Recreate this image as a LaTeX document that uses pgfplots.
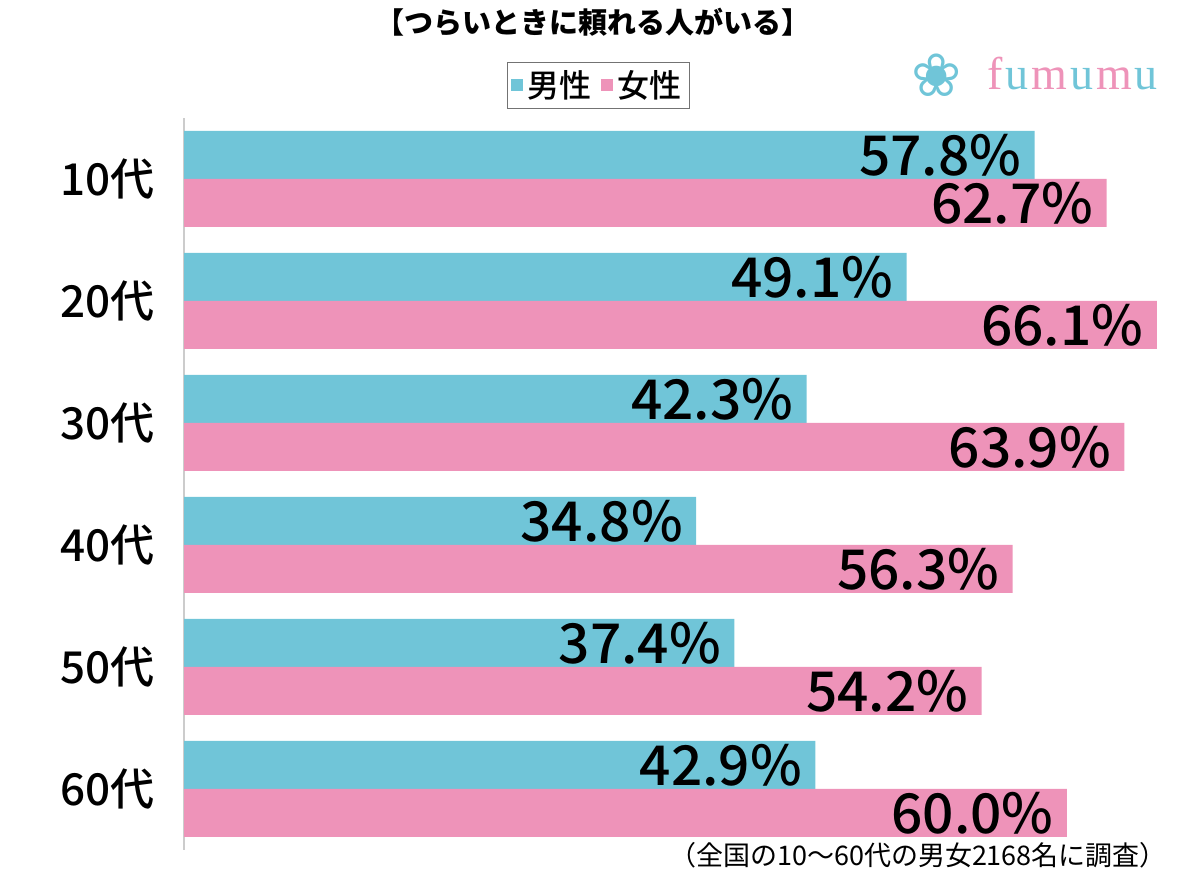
\documentclass[border=0pt]{standalone}
\usepackage{pgfplots}
\pgfplotsset{compat=1.18}
\usepackage{fontspec}
\setmainfont{Noto Sans CJK JP}
\newfontfamily\medfont{Noto Sans CJK JP Medium}
\newfontfamily\logofont{Liberation Serif}
\newfontfamily\symfont{DejaVu Sans}
\definecolor{mblue}{HTML}{70C5D8}
\definecolor{fpink}{HTML}{EE93B9}
\begin{document}
\begin{tikzpicture}
\path[use as bounding box] (0,0) rectangle (600pt,435pt);
\begin{axis}[
  at={(92pt,10pt)}, anchor=south west, scale only axis,
  width=493pt, height=366pt,
  xbar, bar width=24pt,
  xmin=0, xmax=67, ymin=-0.5, ymax=5.5,
  axis x line=none, axis y line*=left,
  y axis line style={draw=black!20, line width=0.8pt},
  ytick={0,...,5}, yticklabels={60代,50代,40代,30代,20代,10代},
  major tick length=0pt,
  yticklabel style={font=\medfont\fontsize{22}{26}\selectfont, inner sep=0pt, xshift=-14.5pt},
  nodes near coords={\pgfmathprintnumber[fixed,fixed zerofill,precision=1,assume math mode=true]{\pgfplotspointmeta}\%},
  every node near coord/.append style={anchor=east, inner sep=0pt, xshift=-6.5pt, font=\medfont\fontsize{27.5}{30}\selectfont, text=black},
  legend columns=2,
  legend style={at={(0.42,1.0444)}, anchor=center, draw=black!55, line width=0.6pt,
    font=\medfont\fontsize{16}{18}\selectfont, inner sep=2pt,
    /tikz/every even column/.append style={column sep=3pt}},
  legend image code/.code={\fill[#1, draw=none] (0pt,-3pt) rectangle (6pt,3pt);},
]
\addplot[fill=mblue, draw=none, bar shift=12pt] coordinates {(42.9,0) (37.4,1) (34.8,2) (42.3,3) (49.1,4) (57.8,5)};
\addplot[fill=fpink, draw=none, bar shift=-12pt] coordinates {(60.0,0) (54.2,1) (56.3,2) (63.9,3) (66.1,4) (62.7,5)};
\legend{男性,女性}
\end{axis}
\node[font=\bfseries\fontsize{14.5}{16}\selectfont] at (296.5pt,424pt) {【つらいときに頼れる人がいる】};
\node[text=mblue, font=\symfont\fontsize{30}{32}\selectfont] at (468.5pt,397.5pt) {❀};
\node[anchor=west, font=\logofont\fontsize{23}{26}\selectfont] at (490pt,398pt) {\textcolor{fpink}{f}\kern1.5pt\textcolor{mblue}{u}\kern1.5pt\textcolor{fpink}{m}\kern1.5pt\textcolor{mblue}{u}\kern1.5pt\textcolor{fpink}{m}\kern1.5pt\textcolor{mblue}{u}};
\node[anchor=east, font=\fontsize{13.5}{15}\selectfont] at (587pt,7.5pt) {（全国の10〜60代の男女2168名に調査）};
\end{tikzpicture}
\end{document}
